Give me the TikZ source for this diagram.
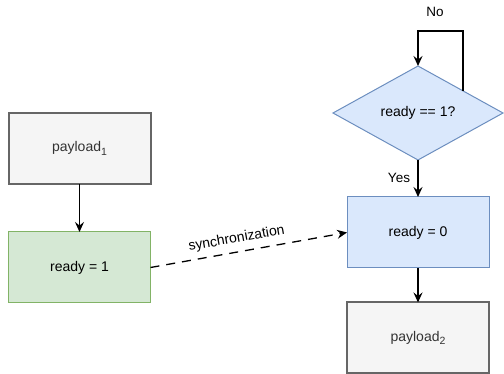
\documentclass[tikz,border=0pt]{standalone}
\usepackage{fontspec}
\setmainfont{Liberation Sans}
\usetikzlibrary{arrows.meta,shapes.geometric,calc}

\definecolor{greyline}{HTML}{666666}
\definecolor{greyfill}{HTML}{F5F5F5}
\definecolor{greytext}{HTML}{333333}
\definecolor{greenline}{HTML}{82B366}
\definecolor{greenfill}{HTML}{D5E8D4}
\definecolor{blueline}{HTML}{6C8EBF}
\definecolor{bluefill}{HTML}{DAE8FC}

% subscript set in the main font
\newcommand{\lowidx}[1]{\raisebox{-3.5pt}{\fontsize{10.5}{11}\selectfont #1}}

\tikzset{
  box/.style={rectangle, minimum width=142pt, minimum height=71pt,
    inner sep=0pt, outer sep=0pt, font=\fontsize{14}{16}\selectfont},
  greybox/.style={box, draw=greyline, fill=greyfill, line width=2pt, text=greytext},
  greenbox/.style={box, draw=greenline, fill=greenfill, line width=1pt},
  bluebox/.style={box, draw=blueline, fill=bluefill, line width=1pt},
  decision/.style={diamond, draw=blueline, fill=bluefill, line width=1pt,
    minimum width=170pt, minimum height=94pt, inner sep=0pt, outer sep=0pt,
    font=\fontsize{14}{16}\selectfont},
  flow/.style={draw=black, line width=1.3pt,
    -{Stealth[length=10pt,width=9pt,inset=3.5pt]}},
  sync/.style={flow, dash pattern=on 9pt off 7pt},
  lbl/.style={font=\fontsize{13.5}{15}\selectfont, inner sep=1pt}
}

\begin{document}
\begin{tikzpicture}[x=1pt, y=-1pt]
  \useasboundingbox (0,0) rectangle (504,374);

  % left thread
  \node[greybox]  (p1) at (79.5,148.5) {payload\lowidx{1}};
  \node[greenbox] (r1) at (79.5,267.5) {ready = 1};

  % right thread
  \node[decision] (chk) at (418,113) {ready == 1?};
  \node[bluebox]  (r0)  at (418,232.5) {ready = 0};
  \node[greybox]  (p2)  at (418,338) {payload\lowidx{2}};

  \coordinate (loopstart) at ($(chk.north)!0.53!(chk.east)$);

  \draw[flow] (p1) -- (r1);
  \draw[flow] (loopstart) |- (418,31) -- (chk.north);
  \node[lbl] at (435,12) {No};
  \draw[flow] (chk.south) -- (r0.north);
  \node[lbl] at (399,178) {Yes};
  \draw[flow] (r0) -- (p2);

  \draw[sync] (r1.east) -- node[pos=0.45, sloped, above=5pt, lbl, font=\fontsize{14}{16}\selectfont] {synchronization} (r0.west);
\end{tikzpicture}
\end{document}
